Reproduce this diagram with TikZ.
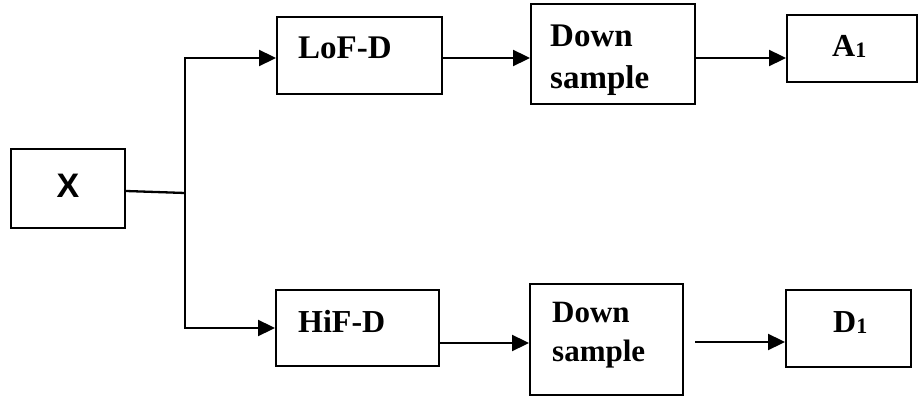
\documentclass[tikz,border=0pt]{standalone}
\usepackage{fontspec}
\setmainfont{Liberation Serif}
\newfontfamily\xsans{Liberation Sans}
\usetikzlibrary{arrows.meta}
\begin{document}
\begin{tikzpicture}[x=1pt,y=-1pt,
  blk/.style={draw=black,line width=2pt,inner sep=0pt,fill=white},
  lbl/.style={anchor=base west,inner sep=0pt,font=\fontsize{32}{32}\selectfont\bfseries},
  arr/.style={line width=2.3pt,-{Triangle[length=17pt,width=16pt]}},
  ln/.style={line width=2.3pt}]
\useasboundingbox (0,0) rectangle (919,398);
% boxes
\node[blk,minimum width=114pt,minimum height=79pt] (x) at (68,188.5) {};
\node[blk,minimum width=165pt,minimum height=77pt] (lof) at (359.5,55.5) {};
\node[blk,minimum width=164pt,minimum height=100pt] (ds1) at (613,54) {};
\node[blk,minimum width=130pt,minimum height=67pt] (a1) at (852,48.5) {};
\node[blk,minimum width=163pt,minimum height=76pt] (hif) at (357.5,328) {};
\node[blk,minimum width=153pt,minimum height=111pt] (ds2) at (606.5,339.5) {};
\node[blk,minimum width=125pt,minimum height=77pt] (d1) at (848.5,328.5) {};
% texts
\node[inner sep=0pt,font=\xsans\fontsize{34}{34}\selectfont\bfseries] (xt) at (68,186) {X};
\node[lbl,font=\fontsize{33}{33}\selectfont\bfseries] (loft) at (298,59) {LoF-D};
\node[lbl,font=\fontsize{33}{33}\selectfont\bfseries] (ds1a) at (550,47) {Down};
\node[lbl,font=\fontsize{33}{33}\selectfont\bfseries] (ds1b) at (550,89) {sample};
\node[lbl] (a1t) at (832,57) {A\raisebox{-1pt}{\fontsize{22}{22}\selectfont 1}};
\node[lbl] (hift) at (298,332) {HiF-D};
\node[lbl,font=\fontsize{31}{31}\selectfont\bfseries] (ds2a) at (552,323) {Down};
\node[lbl,font=\fontsize{31}{31}\selectfont\bfseries] (ds2b) at (552,361) {sample};
\node[lbl] (d1t) at (833,333) {D\raisebox{-1pt}{\fontsize{22}{22}\selectfont 1}};
% connectors
\coordinate (j) at (185,193);
\coordinate (jt) at (185,58);
\coordinate (jb) at (185,328);
\coordinate (g) at (695,342);
\draw[ln] (x.east |- 0,191) -- (j);
\draw[ln,line cap=rect] (jt) -- (jb);
\draw[arr] (jt) -- (lof.west |- jt);
\draw[arr] (jb) -- (hif.west |- jb);
\draw[arr] (lof.east |- 0,58) -- (ds1.west |- 0,58);
\draw[arr] (ds1.east |- 0,58) -- (a1.west |- 0,58);
\draw[arr] (hif.east |- 0,343) -- (ds2.west |- 0,343);
\draw[arr] (g) -- (d1.west |- g);
\end{tikzpicture}
\end{document}
